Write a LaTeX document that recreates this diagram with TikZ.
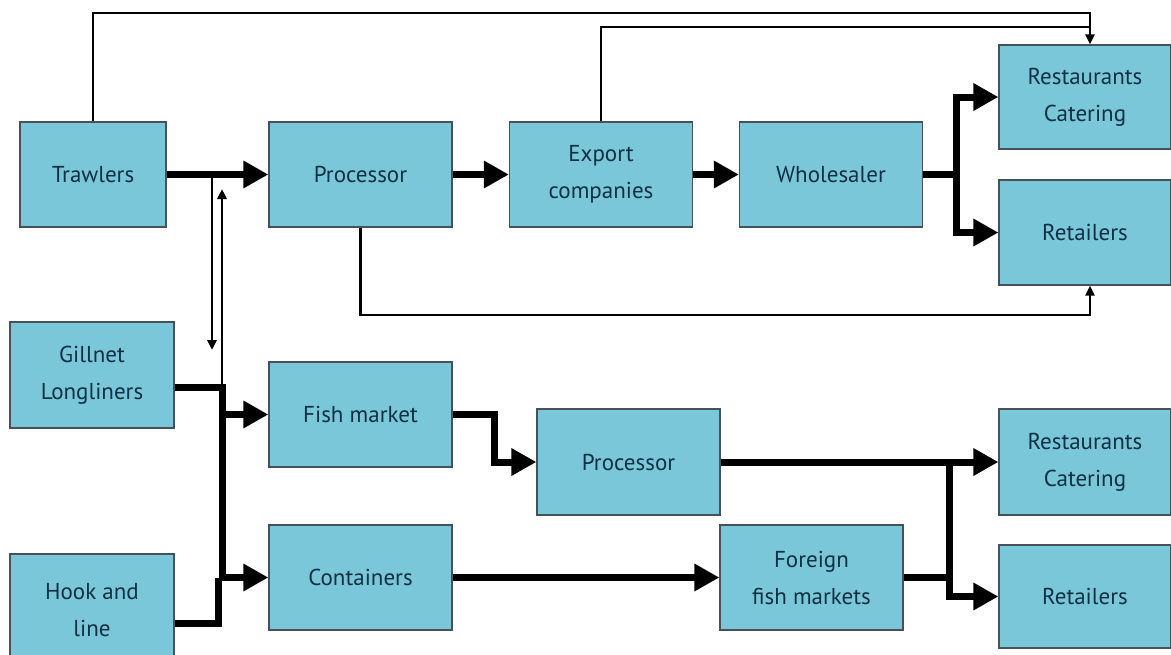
\documentclass[tikz,border=0pt]{standalone}
\usepackage{fontspec}
\setmainfont{PT Sans}
\usetikzlibrary{arrows.meta}

\definecolor{boxfill}{RGB}{122,199,217}
\definecolor{boxline}{RGB}{70,82,88}
\definecolor{boxtext}{RGB}{14,48,68}

\tikzset{
	box/.style={draw=boxline, line width=1.2pt, fill=boxfill, text=boxtext, align=center,
		minimum width=183pt, minimum height=105pt, inner sep=0pt,
		font=\fontsize{23}{37}\selectfont},
	flow/.style={line width=7pt},
	flowarrow/.style={line width=7pt, -{Triangle[length=25pt,width=26pt]}},
	link/.style={line width=2.8pt},
	linkarrow/.style={line width=2.8pt, -{Triangle[length=10pt,width=9pt]}}
}

\begin{document}
\begin{tikzpicture}[x=1pt, y=-1pt]
		\useasboundingbox (0,0) rectangle (1171,654);

		\node[box, minimum width=146pt] (trawl) at (93,174.5) {Trawlers};
		\node[box] (procA) at (360.5,174.5) {Processor};
		\node[box] (export) at (601,174.5) {Export\\companies};
		\node[box] (whole) at (831,174.5) {Wholesaler};
		\node[box, minimum width=172pt, minimum height=104pt] (restA) at (1085,97) {Restaurants\\Catering};
		\node[box, minimum width=172pt] (retA) at (1085,232.5) {Retailers};

		\node[box, minimum width=164pt, minimum height=106pt] (gill) at (92,375) {Gillnet\\Longliners};
		\node[box, minimum width=164pt, minimum height=112pt] (hook) at (92,610) {Hook and\\line};
		\node[box] (fishm) at (360.5,414.5) {Fish market};
		\node[box] (cont) at (360.5,577.5) {Containers};
		\node[box, minimum height=106pt] (procB) at (628.5,462) {Processor};
		\node[box] (foreign) at (811.5,577.5) {Foreign\\fish markets};
		\node[box, minimum width=172pt, minimum height=106pt] (restB) at (1085,462) {Restaurants\\Catering};
		\node[box, minimum width=172pt, minimum height=103pt] (retB) at (1085,596.5) {Retailers};

		\coordinate (topR) at (1090,13);
		\coordinate (topE) at (1090,27);
		\coordinate (botR) at (1090,315);
		\coordinate (jw) at (956,174.5);
		\coordinate (dn) at (212,174.5);
		\coordinate (dnend) at (212,350);
		\coordinate (jg) at (222,387);
		\coordinate (up) at (222,189);
		\coordinate (jh) at (218,623);
		\coordinate (jf) at (494,462);
		\coordinate (jb) at (949,462);

		\draw[flowarrow] (trawl) -- (procA);
		\draw[flowarrow] (procA) -- (export);
		\draw[flowarrow] (export) -- (whole);
		\draw[flowarrow] (whole.east) -- (jw) |- (restA.west);
		\draw[flowarrow] (jw) |- (retA.west);

		\draw[linkarrow] (trawl.north) |- (topR) -- (restA.north -| topR);
		\draw[link] (export.north) |- (topE);
		\draw[linkarrow] (procA.south) |- (botR) -- (retA.south -| botR);
		\draw[linkarrow] (dn) -- (dnend);
		\draw[linkarrow] (jg) -- (up);

		\draw[flowarrow] (gill.east |- jg) -- (jg) |- (fishm.west);
		\draw[flowarrow] (jg) |- (cont.west);
		\draw[flow] (hook.east |- jh) -- (jh) -- (jh |- cont.west);
		\draw[flowarrow] (fishm.east) -| (jf) -- (procB.west);
		\draw[flowarrow] (cont) -- (foreign);
		\draw[flowarrow] (procB) -- (restB);
		\draw[flow] (foreign.east) -- (foreign.east -| jb);
		\draw[flowarrow] (jb) |- (retB.west);
	\end{tikzpicture}
\end{document}
